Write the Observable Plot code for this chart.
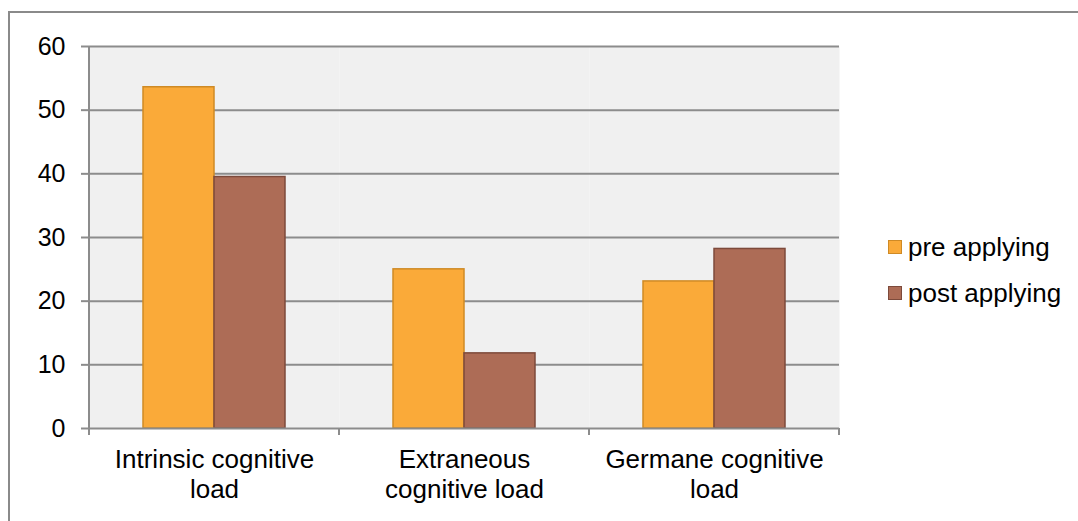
<!DOCTYPE html>
<html><head><meta charset="utf-8">
<script src="https://cdn.jsdelivr.net/npm/d3@7"></script>
<script src="https://cdn.jsdelivr.net/npm/@observablehq/plot@0.6"></script>
<style>
body{margin:0;background:#fff;}
#wrap{position:relative;width:1078px;height:521px;overflow:hidden;font-family:"Liberation Sans",Arial,sans-serif;}
#border{position:absolute;left:8px;top:11px;width:2000px;height:2000px;border-left:2px solid #8a8a8a;border-top:2px solid #8a8a8a;}
#chart{position:absolute;left:0;top:0;}
#legend{position:absolute;left:888px;top:224px;font-size:26px;color:#000;line-height:1;}
.item{display:flex;align-items:center;height:46px;}
.sw{width:12px;height:12px;border:1.5px solid;margin-right:6px;}
</style></head>
<body>
<div id="wrap"><div id="border"></div><div id="chart"></div><div id="legend"></div></div>
<script>
const categories = ["Intrinsic cognitive load", "Extraneous cognitive load", "Germane cognitive load"];
const categoryLabels = ["Intrinsic cognitive\nload", "Extraneous\ncognitive load", "Germane cognitive\nload"];
const series = ["pre applying", "post applying"];
const preValues = [53.6, 25.0, 23.1];
const postValues = [39.5, 11.8, 28.2];
const yTicks = [0, 10, 20, 30, 40, 50, 60];
const fills = ["#faaa39", "#ad6c56"];
const strokes = ["#cf8a25", "#7d4a3b"];

const rows = [];
categories.forEach((c, i) => {
  rows.push({category: c, series: series[0], value: preValues[i]});
  rows.push({category: c, series: series[1], value: postValues[i]});
});
const labelOf = new Map(categories.map((c, i) => [c, categoryLabels[i]]));
const grid = "#8c8c8c";

const plot = Plot.plot({
  width: 1078, height: 521,
  marginLeft: 89, marginRight: 239, marginTop: 46, marginBottom: 93,
  style: {fontFamily: "'Liberation Sans', Arial, sans-serif", fontSize: "25px", color: "#000", background: "transparent", overflow: "visible"},
  fx: {domain: categories, padding: 0, label: null, axis: null},
  x: {domain: series, paddingInner: 0, paddingOuter: 0.75, axis: null},
  y: {domain: [0, 60], label: null, axis: null},
  marks: [
    Plot.frame({fill: "#f0f0f0", stroke: null}),
    Plot.gridY(yTicks.filter(v => v > 0), {stroke: grid, strokeOpacity: 1, strokeWidth: 2}),
    ...series.map((s, i) => Plot.barY(rows.filter(r => r.series === s), {
      fx: "category", x: "series", y: "value",
      fill: fills[i], stroke: strokes[i], strokeWidth: 1.5
    })),
    Plot.ruleY([0], {stroke: grid, strokeWidth: 2}),
    Plot.axisY({ticks: yTicks, tickSize: 8, tickPadding: 16, stroke: grid, strokeWidth: 2, fontSize: 25, label: null}),
    Plot.axisFx({anchor: "bottom", tickSize: 0, tickPadding: 18, tickFormat: d => labelOf.get(d), fontSize: 26, lineHeight: 1.15, label: null})
  ]
});
document.getElementById("chart").appendChild(plot);

// axis line and category boundary ticks, from the plot's own scales
const fx = plot.scale("fx"), y = plot.scale("y");
const y0 = y.apply(0), yTop = y.apply(60);
const bounds = categories.map(c => fx.apply(c));
bounds.push(fx.apply(categories[categories.length - 1]) + fx.step);
const svg = d3.select(plot);
svg.append("line").attr("x1", bounds[0]).attr("x2", bounds[0]).attr("y1", yTop).attr("y2", y0 + 7)
  .attr("stroke", grid).attr("stroke-width", 2);
svg.selectAll("line.bt").data(bounds).join("line").attr("class", "bt")
  .attr("x1", d => d).attr("x2", d => d).attr("y1", y0).attr("y2", y0 + 7)
  .attr("stroke", grid).attr("stroke-width", 2);

const legend = d3.select("#legend");
series.forEach((s, i) => {
  const it = legend.append("div").attr("class", "item");
  it.append("div").attr("class", "sw").style("background", fills[i]).style("border-color", strokes[i]);
  it.append("span").text(s);
});
</script>
</body></html>
